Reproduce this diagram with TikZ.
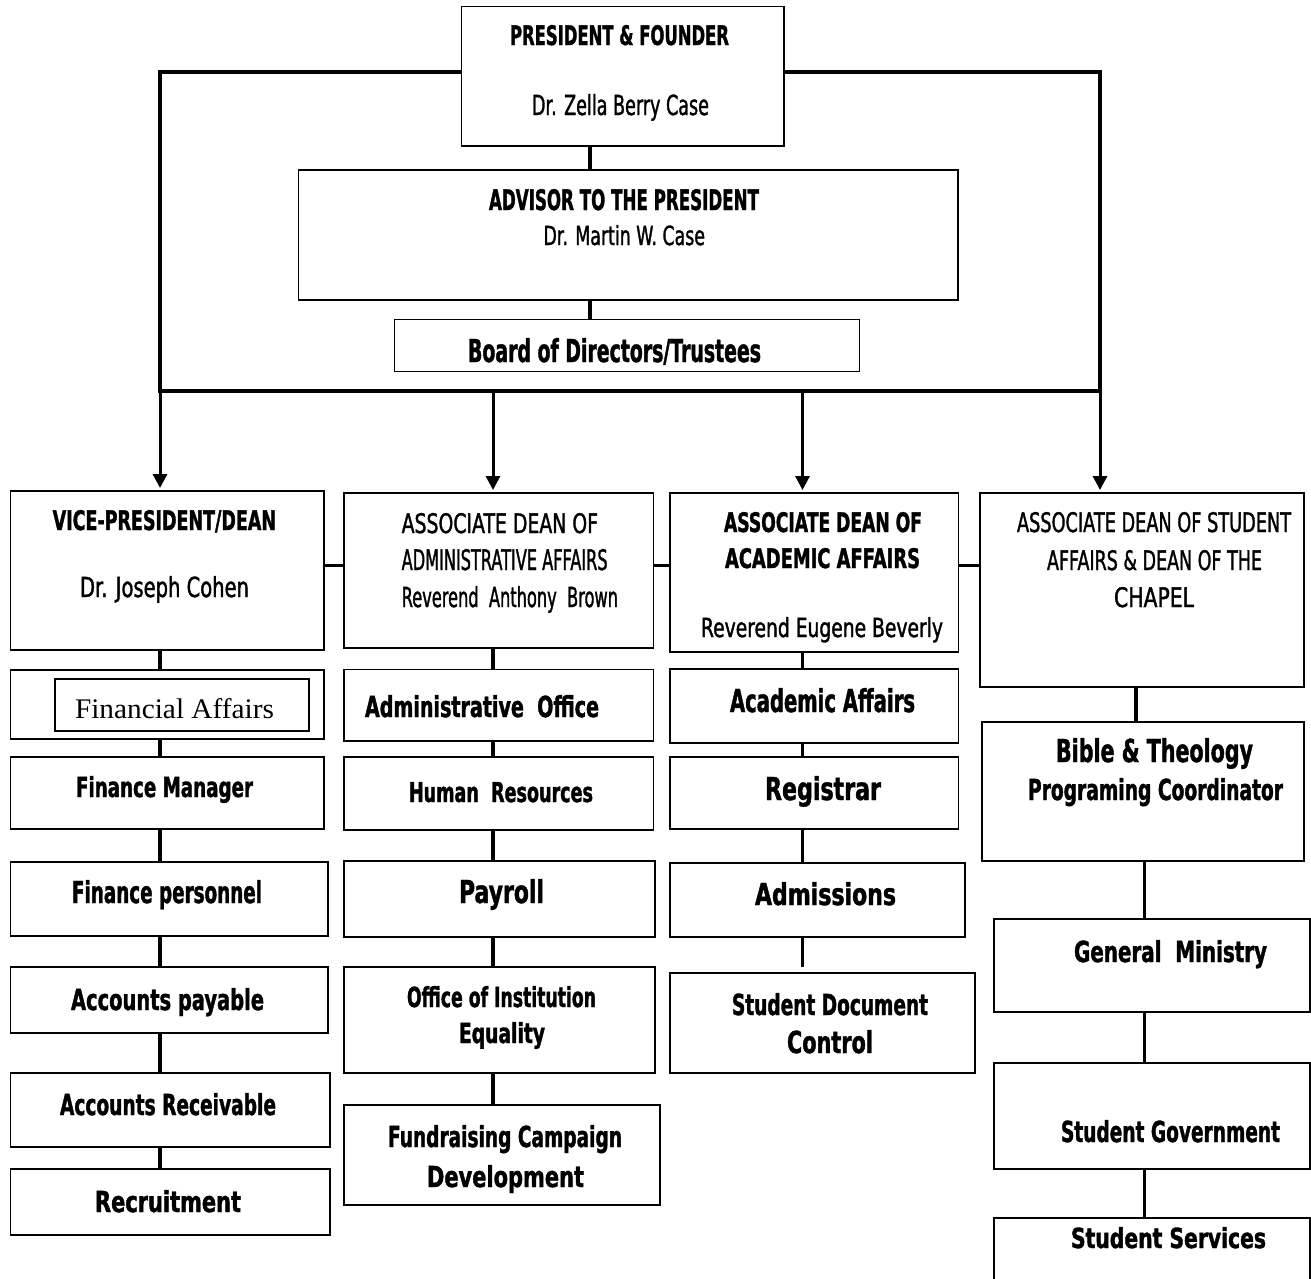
\documentclass[tikz,border=0pt]{standalone}
\usepackage{fontspec}
\usepackage{graphicx}
\setmainfont{DejaVu Sans}[FakeStretch=0.61, BoldFeatures={FakeBold=1.2}]
\newfontfamily\regface{DejaVu Sans}[FakeStretch=0.61, FakeBold=1.2]
\newfontfamily\serifface{Liberation Serif}
\usetikzlibrary{arrows.meta}
\tikzset{
  box/.style={draw=black, line width=1.3pt, inner sep=0pt, outer sep=0pt, anchor=north west},
  lab/.style={inner sep=0pt, outer sep=0pt, font=\fontsize{28}{30}\selectfont},
  mainline/.style={line width=4.5pt},
  vline/.style={line width=3.5pt},
  conn/.style={line width=3.2pt},
  arr/.style={line width=3pt, -{Triangle[width=14pt,length=14pt]}, shorten >=3pt},
}
\newcommand\bx[5]{%
  \pgfmathsetlengthmacro\bw{#4-#2}\pgfmathsetlengthmacro\bh{#5-#3}%
  \node[box, minimum width=\bw, minimum height=\bh] (#1) at (#2,#3) {};}
% name, x-left, x-right, baseline, height, font, text
\newcommand\lbl[7]{%
  \pgfmathsetlengthmacro\lw{#3-#2}\pgfmathsetlengthmacro\lh{#5}%
  \node[lab, anchor=base west] (#1) at (#2,#4) {#6\resizebox{\lw}{\lh}{#7}};}
\begin{document}
\begin{tikzpicture}[x=1pt,y=-1pt]
\useasboundingbox[fill=white] (0,0) rectangle (1311,1278);
% ---------- boxes ----------
\bx{pres}{461.5}{6.5}{784}{146}
\bx{adv}{298.5}{170}{958}{300}
\bx{board}{394.6}{319.5}{859.5}{371.5}
\bx{vp}{10.5}{491}{324}{650}
\bx{adm}{344}{493}{653.5}{648}
\bx{acd}{670}{493}{958.5}{652}
\bx{std}{980}{493}{1304}{687}
\bx{faO}{10.5}{670}{324}{739}
\bx{faI}{55}{679}{309}{731}
\bx{ao}{344}{669.5}{653.5}{741}
\bx{aa}{670}{669}{958.5}{743}
\bx{bt}{982}{722}{1304}{861}
\bx{fm}{10.5}{757}{324}{829}
\bx{hr}{344}{757}{653.5}{830}
\bx{reg}{670}{757}{958.5}{829}
\bx{fp}{10.5}{862}{328}{936}
\bx{pay}{344}{861}{655}{937}
\bx{admis}{670}{863}{965}{937}
\bx{gm}{994}{919}{1310}{1012}
\bx{ap}{10.5}{967}{328}{1033}
\bx{oi}{344}{967}{655}{1073}
\bx{sdc}{670}{973}{975}{1073}
\bx{ar}{10.5}{1073}{330}{1147}
\bx{fc}{344}{1105}{660}{1205}
\bx{sg}{994}{1063}{1310}{1169}
\bx{rec}{10.5}{1169}{330}{1235}
\node[inner sep=0pt, outer sep=0pt, anchor=north west, minimum width=316pt, minimum height=62pt] (ss) at (994,1218) {};
\draw[line width=1.3pt] (ss.south west) -- (ss.north west) -- (ss.north east) -- (ss.south east);
% ---------- frame lines ----------
\coordinate (tl) at (160,72);
\coordinate (tr) at (1100,72);
\coordinate (bl) at (160,391);
\coordinate (br) at (1100,391);
\coordinate (b2) at (493,391);
\coordinate (b3) at (802.5,391);
\draw[mainline] (pres.west |- tl) -- ([xshift=-1.75pt]tl);
\draw[mainline] (pres.east |- tr) -- ([xshift=1.75pt]tr);
\draw[vline] (tl) -- (bl);
\draw[vline] (tr) -- (br);
\draw[mainline] ([xshift=-1.75pt]bl) -- ([xshift=1.75pt]br);
\draw[arr] (bl) -- (bl |- vp.north);
\draw[arr] (b2) -- (b2 |- adm.north);
\draw[arr] (b3) -- (b3 |- acd.north);
\draw[arr] (br) -- (br |- std.north);
\coordinate (c1) at (590,0);
\draw[conn] (pres.south -| c1) -- (adv.north -| c1);
\draw[conn] (adv.south -| c1) -- (board.north -| c1);
% ---------- row 1 links ----------
\coordinate (h) at (0,565.7);
\draw[conn] (vp.east |- h) -- (adm.west |- h);
\draw[conn] (adm.east |- h) -- (acd.west |- h);
\draw[conn] (acd.east |- h) -- (std.west |- h);
% ---------- column links ----------
\coordinate (x1) at (160,0);
\coordinate (x2) at (493,0);
\coordinate (x3) at (802.5,0);
\coordinate (x4) at (1136,0);
\coordinate (x5) at (1144.5,0);
\draw[conn] (vp.south -| x1) -- (faO.north -| x1);
\draw[conn] (faO.south -| x1) -- (fm.north -| x1);
\draw[conn] (fm.south -| x1) -- (fp.north -| x1);
\draw[conn] (fp.south -| x1) -- (ap.north -| x1);
\draw[conn] (ap.south -| x1) -- (ar.north -| x1);
\draw[conn] (ar.south -| x1) -- (rec.north -| x1);
\draw[conn] (adm.south -| x2) -- (ao.north -| x2);
\draw[conn] (ao.south -| x2) -- (hr.north -| x2);
\draw[conn] (hr.south -| x2) -- (pay.north -| x2);
\draw[conn] (pay.south -| x2) -- (oi.north -| x2);
\draw[conn] (oi.south -| x2) -- (fc.north -| x2);
\draw[conn] (acd.south -| x3) -- (aa.north -| x3);
\draw[conn] (aa.south -| x3) -- (reg.north -| x3);
\draw[conn] (reg.south -| x3) -- (admis.north -| x3);
\draw[conn] (admis.south -| x3) -- ([yshift=6pt]sdc.north -| x3);
\draw[conn] (std.south -| x4) -- (bt.north -| x4);
\draw[conn] (bt.south -| x5) -- (gm.north -| x5);
\draw[conn] (gm.south -| x5) -- (sg.north -| x5);
\draw[conn] (sg.south -| x5) -- (ss.north -| x5);
% ---------- labels ----------
\lbl{tpres1}{510}{729}{45}{20}{\bfseries}{PRESIDENT \& FOUNDER}
\lbl{tpres2}{532}{709}{115}{21}{\regface}{Dr. Zella Berry Case}
\lbl{tadv1}{489}{759}{210}{21}{\bfseries}{ADVISOR TO THE PRESIDENT}
\lbl{tadv2}{543.5}{705}{245}{20}{\regface}{Dr. Martin W. Case}
\lbl{tboard}{468}{761}{362}{24}{\bfseries}{Board of Directors/Trustees}
\lbl{tvp1}{52.7}{276}{530}{20}{\bfseries}{VICE-PRESIDENT/DEAN}
\lbl{tvp2}{80}{249}{597}{21}{\regface}{Dr. Joseph Cohen}
\lbl{tad1}{401.7}{598}{533}{20}{\regface}{ASSOCIATE DEAN OF}
\lbl{tad2}{401.7}{607.6}{570}{21}{\regface}{ADMINISTRATIVE AFFAIRS}
\lbl{tad3}{401.7}{618}{607}{21}{\regface}{Reverend\ \ Anthony\ \ Brown}
\lbl{tac1}{724}{922}{532}{20}{\bfseries}{ASSOCIATE DEAN OF}
\lbl{tac2}{725}{920}{568}{20}{\bfseries}{ACADEMIC AFFAIRS}
\lbl{tac3}{701}{943}{637}{20}{\regface}{Reverend Eugene Beverly}
\lbl{tst1}{1017}{1291}{532}{20}{\regface}{ASSOCIATE DEAN OF STUDENT}
\lbl{tst2}{1047}{1262}{570}{20}{\regface}{AFFAIRS \& DEAN OF THE}
\lbl{tst3}{1114}{1194}{607}{20}{\regface}{CHAPEL}
\lbl{tfa}{75}{274}{718}{20}{\serifface}{Financial Affairs}
\lbl{tao}{365}{599}{717}{22}{\bfseries}{Administrative\ \ Office}
\lbl{taa}{730}{915}{712}{24}{\bfseries}{Academic Affairs}
\lbl{tbt1}{1056}{1253}{762}{24}{\bfseries}{Bible \& Theology}
\lbl{tbt2}{1028}{1283}{800}{22}{\bfseries}{Programing Coordinator}
\lbl{tfm}{76}{253}{797}{21}{\bfseries}{Finance Manager}
\lbl{thr}{409}{593}{802}{20}{\bfseries}{Human\ \ Resources}
\lbl{treg}{765}{881}{800}{24}{\bfseries}{Registrar}
\lbl{tfp}{72}{262}{903}{23}{\bfseries}{Finance personnel}
\lbl{tpay}{459}{544}{903}{24}{\bfseries}{Payroll}
\lbl{tadm}{755}{896}{905}{23}{\bfseries}{Admissions}
\lbl{tgm}{1074}{1267}{962}{22}{\bfseries}{General\ \ Ministry}
\lbl{tap}{71}{264}{1010}{22}{\bfseries}{Accounts payable}
\lbl{toi1}{407}{596}{1007}{21}{\bfseries}{Office of Institution}
\lbl{toi2}{459}{545}{1043}{21}{\bfseries}{Equality}
\lbl{tsd1}{732}{928}{1015}{22}{\bfseries}{Student Document}
\lbl{tsd2}{787}{873}{1053}{23}{\bfseries}{Control}
\lbl{tar}{60}{276}{1115}{22}{\bfseries}{Accounts Receivable}
\lbl{tfc1}{388}{622}{1147}{22}{\bfseries}{Fundraising Campaign}
\lbl{tfc2}{427}{584}{1187}{22}{\bfseries}{Development}
\lbl{trec}{95}{241}{1212}{22}{\bfseries}{Recruitment}
\lbl{tsg}{1061}{1280}{1142}{22}{\bfseries}{Student Government}
\lbl{tss}{1071}{1266}{1248}{21}{\bfseries}{Student Services}
\end{tikzpicture}
\end{document}
